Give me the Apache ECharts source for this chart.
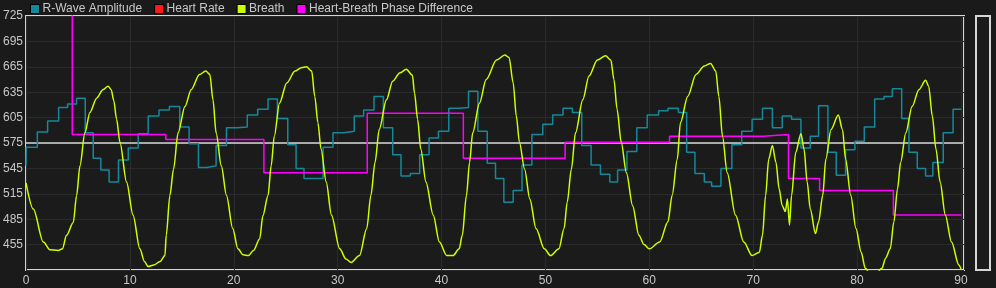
<!DOCTYPE html>
<html>
<head>
<meta charset="utf-8">
<title>Heart-Breath Monitor</title>
<script src="https://cdn.jsdelivr.net/npm/echarts@6/dist/echarts.min.js"></script>
<style>
  html, body { margin: 0; padding: 0; background: #1a1a1a; }
  #chart { width: 996px; height: 288px; }
</style>
</head>
<body>
<div id="chart"></div>
<script>
// Breath (smooth-ish wave), x = seconds
const breathTime = [
  0, 0.7, 1.67, 2.3, 3.1, 3.5, 3.9, 4.55, 4.87, 5.19, 5.67, 6.15, 6.8, 7.4, 7.9, 8.2, 8.45, 8.72, 9.04, 9.68,
  10.3, 10.96, 11.4, 11.76, 12.3, 12.9, 13.37, 13.5, 13.85, 14.2, 14.64, 15.3, 15.9, 16.7, 17.3, 17.7, 18.0, 18.3, 18.8, 19.3,
  19.9, 20.4, 20.9, 21.4, 21.9, 22.5, 22.8, 23.3, 23.6, 23.9, 24.4, 25.1, 25.9, 26.5, 27.0, 27.5, 27.8, 28.1, 28.4, 28.9,
  29.4, 30.2, 30.8, 31.3, 32.1, 32.8, 33.2, 33.6, 34.0, 34.7, 35.3, 36.0, 36.6, 37.2, 37.4, 37.7, 38.0, 38.5, 39.2, 39.8,
  40.5, 41.1, 41.7, 42.0, 42.4, 42.7, 43.0, 43.65, 44.3, 45.3, 46.1, 46.5, 46.9, 47.2, 47.5, 48.0, 48.5, 49.1, 49.9, 50.5,
  51.3, 51.8, 52.1, 52.5, 52.9, 53.6, 54.2, 55.0, 55.8, 56.3, 56.6, 56.9, 57.3, 57.8, 58.4, 59.0, 59.5, 60.0, 61.0, 61.8,
  62.2, 62.7, 63.0, 63.7, 64.5, 65.3, 65.9, 66.4, 66.7, 67.05, 67.5, 68.3, 69.1, 69.9, 70.6, 70.9, 71.2, 71.5, 71.85, 72.2,
  72.5, 72.8, 73.1, 73.3, 73.5, 73.7, 74.1, 74.6, 74.9, 75.2, 75.5, 76.0, 76.3, 76.7, 77.0, 77.5, 78.2, 78.6, 78.9, 79.4,
  79.9, 80.4, 80.8, 81.5, 82.4, 82.75, 83.2, 83.55, 83.9, 84.2, 84.7, 85.3, 85.96, 86.6, 86.9, 87.25, 87.6, 88.0, 88.5, 89.1,
  89.8, 90.05
]
const breathValue = [
  528, 497, 458, 449, 448, 450, 466, 481, 513, 548, 587, 611, 628, 638, 642, 638, 625, 603, 576, 529,
  490, 450, 435, 429, 431, 435, 442, 466, 513, 544, 587, 618, 638, 656, 660, 656, 626, 587, 548, 513,
  474, 450, 443, 442, 448, 462, 489, 513, 548, 583, 622, 646, 660, 664, 665, 660, 630, 599, 568, 529,
  490, 450, 438, 434, 442, 474, 513, 552, 591, 626, 648, 658, 662, 655, 634, 603, 568, 529, 490, 458,
  442, 442, 450, 466, 513, 552, 587, 622, 650, 673, 679, 676, 646, 607, 576, 544, 509, 474, 450, 442,
  450, 474, 505, 544, 587, 626, 654, 673, 678, 673, 650, 615, 576, 540, 501, 466, 455, 450, 458, 482,
  513, 556, 599, 630, 656, 666, 669, 660, 630, 583, 540, 490, 458, 442, 446, 466, 513, 556, 572, 552,
  521, 501, 494, 509, 478, 513, 564, 586, 568, 529, 497, 468, 482, 513, 556, 591, 608, 591, 556, 513,
  474, 446, 427, 415, 427, 439, 450, 482, 521, 552, 587, 618, 638, 649, 642, 607, 568, 529, 490, 458,
  431, 425
]

// R-Wave Amplitude, step line: time where each level starts
const rwaveTime = [
  0, 0.02, 1.09, 2.08, 3.14, 4.0, 4.87, 5.7, 6.47, 7.2, 8.0, 8.9, 9.84, 10.8, 11.76, 12.8, 13.8, 14.8, 15.7, 16.6,
  17.4, 18.3, 19.3, 20.3, 21.3, 22.3, 23.3, 24.2, 25.2, 26.0, 26.76, 28.6, 29.55, 30.6, 31.6, 32.5, 33.5, 34.4, 35.3, 36.1,
  37.0, 37.9, 38.8, 39.7, 40.7, 41.7, 42.6, 43.5, 44.4, 45.2, 46.0, 46.9, 47.75, 48.7, 49.75, 50.7, 51.7, 52.6, 53.5, 54.4,
  55.3, 56.2, 56.95, 57.85, 58.8, 59.8, 60.9, 61.8, 62.8, 63.6, 64.4, 65.3, 66.0, 66.9, 67.95, 68.9, 69.9, 70.9, 71.85, 72.8,
  73.7, 74.6, 75.5, 76.3, 77.2, 78.0, 78.9, 79.8, 80.7, 81.7, 82.6, 83.4, 84.3, 85.0, 85.8, 86.6, 87.3, 88.3, 89.25, 90.05
]
const rwaveValue = [
  548, 570, 588, 601, 617, 621, 628, 587, 557, 543, 529, 555, 569, 586, 607, 614, 618, 594, 574, 546,
  548, 572, 593, 594, 608, 615, 627, 604, 573, 545, 533, 570, 587, 589, 607, 614, 630, 593, 561, 536,
  539, 561, 581, 589, 616, 617, 636, 589, 551, 533, 505, 519, 549, 585, 597, 608, 616, 611, 572, 549,
  538, 529, 543, 565, 593, 608, 613, 616, 611, 564, 539, 529, 524, 545, 573, 589, 603, 616, 593, 607,
  603, 569, 583, 619, 564, 537, 567, 577, 594, 627, 630, 639, 604, 564, 545, 536, 552, 587, 615, 615
]

// Heart-Breath Phase Difference, step line (comes in from above the top)
const phaseTime = [4.45, 4.45, 13.46, 22.9, 32.85, 42.1, 51.9, 61.95, 71.0, 73.4, 76.4, 83.5, 90.05]
const phaseValue = [800, 585, 579, 540, 610, 557, 576, 583, 585, 533, 519, 490, 490]

// Heart Rate has no samples in this window
const heartRateValue = []

const baselineValue = 575
const seriesNames = ['R-Wave Amplitude', 'Heart Rate', 'Breath', 'Heart-Breath Phase Difference']
const seriesColors = ['#13899b', '#ff1a1a', '#ccff00', '#ff00ff']

const zip = (xs, ys) => xs.map((x, i) => [x, ys[i]])

const chart = echarts.init(document.getElementById('chart'), null, { renderer: 'canvas' })

const frameColor = '#d6d6d6'
const textColor = '#c8c8c8'
const fontFamily = '"Liberation Sans", Arial, sans-serif'

const option = {
  backgroundColor: '#1a1a1a',
  animation: false,
  textStyle: { fontFamily: fontFamily },
  legend: {
    left: 25,
    top: -2,
    itemWidth: 9,
    itemHeight: 9,
    itemGap: 12,
    icon: 'rect',
    data: seriesNames,
    itemStyle: { borderColor: '#000', borderWidth: 1 },
    textStyle: { color: textColor, fontSize: 12, fontFamily: fontFamily, padding: [0, 0, 0, -2] }
  },
  grid: [
    {
      left: 26,
      right: 32,
      top: 16,
      bottom: 18,
      show: true,
      backgroundColor: '#1b1b1b',
      borderColor: frameColor,
      borderWidth: 2
    },
    {
      left: 976,
      width: 14,
      top: 16,
      bottom: 18,
      show: true,
      backgroundColor: '#1b1b1b',
      borderColor: frameColor,
      borderWidth: 2
    }
  ],
  xAxis: [
    {
      type: 'value',
      gridIndex: 0,
      min: 0,
      max: 90.3,
      interval: 10,
      axisLine: { show: false },
      axisTick: { show: false },
      axisLabel: {
        color: textColor,
        fontSize: 12,
        margin: 5,
        showMaxLabel: false
      },
      splitLine: { show: true, lineStyle: { color: '#2b2b2b', width: 1 } }
    },
    { type: 'value', gridIndex: 1, show: false, min: 0, max: 1 }
  ],
  yAxis: [
    {
      type: 'value',
      gridIndex: 0,
      min: 425,
      max: 725,
      interval: 30,
      axisLine: { show: false },
      axisTick: { show: false },
      axisLabel: {
        color: textColor,
        fontSize: 12,
        margin: 3,
        showMinLabel: false
      },
      splitLine: { show: true, lineStyle: { color: '#2b2b2b', width: 1 } }
    },
    { type: 'value', gridIndex: 1, show: false, min: 0, max: 1 }
  ],
  series: [
    {
      name: seriesNames[0],
      type: 'line',
      step: 'end',
      data: zip(rwaveTime, rwaveValue),
      showSymbol: false,
      color: seriesColors[0],
      lineStyle: { width: 1.5, color: seriesColors[0] },
      z: 3
    },
    {
      name: seriesNames[1],
      type: 'line',
      data: heartRateValue,
      showSymbol: false,
      color: seriesColors[1],
      lineStyle: { width: 1.5, color: seriesColors[1] }
    },
    {
      name: seriesNames[2],
      type: 'line',
      data: zip(breathTime, breathValue),
      showSymbol: false,
      smooth: 0.3,
      smoothMonotone: 'x',
      color: seriesColors[2],
      lineStyle: { width: 1.5, color: seriesColors[2] },
      z: 5,
      markLine: {
        silent: true,
        symbol: 'none',
        label: { show: false },
        lineStyle: { color: '#d8d8d8', type: 'solid', width: 1.5 },
        data: [{ yAxis: baselineValue }],
        z: 2
      }
    },
    {
      name: seriesNames[3],
      type: 'line',
      step: 'end',
      data: zip(phaseTime, phaseValue),
      showSymbol: false,
      color: seriesColors[3],
      lineStyle: { width: 1.5, color: seriesColors[3] },
      z: 4
    }
  ]
}

chart.setOption(option)
</script>
</body>
</html>
